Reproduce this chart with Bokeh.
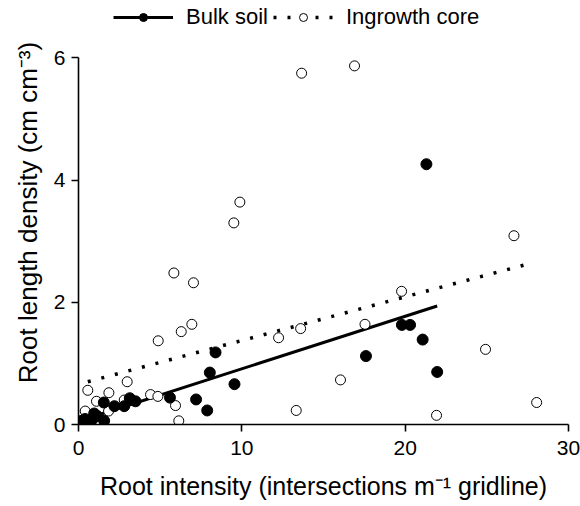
import math
from bokeh.plotting import figure
from bokeh.models import Legend, LegendItem, Title, FixedTicker
from bokeh.embed import file_html
from bokeh.resources import INLINE

# ---- data ----
bulk_x = [0.2, 0.4, 0.84, 0.96, 1.14, 1.55, 1.57, 2.2, 2.8, 3.14, 3.49, 5.6,
          7.2, 7.88, 8.04, 8.39, 9.55, 17.6, 19.8, 20.3, 21.07, 21.3, 21.96]
bulk_y = [0.06, 0.09, 0.08, 0.18, 0.14, 0.36, 0.06, 0.30, 0.30, 0.43, 0.38, 0.44,
          0.41, 0.23, 0.85, 1.18, 0.66, 1.12, 1.63, 1.63, 1.39, 4.26, 0.86]

ingrowth_x = [0.41, 0.57, 1.1, 1.84, 1.86, 2.8, 2.98, 4.41, 4.86, 4.88, 5.84, 5.94,
              6.14, 6.29, 6.94, 7.04, 9.51, 9.88, 12.25, 13.33, 13.6, 13.66, 16.04,
              16.9, 17.54, 19.78, 21.92, 24.92, 26.66, 28.05]
ingrowth_y = [0.22, 0.56, 0.38, 0.22, 0.52, 0.40, 0.70, 0.49, 0.46, 1.37, 2.48, 0.31,
              0.06, 1.52, 1.64, 2.32, 3.30, 3.64, 1.42, 0.23, 1.57, 5.75, 0.73,
              5.87, 1.64, 2.18, 0.15, 1.23, 3.09, 0.36]

bulk_fit_x = [0.2, 21.96]
bulk_fit_y = [0.07, 1.94]
ingrowth_fit_x = [0.57, 27.84]
ingrowth_fit_y = [0.70, 2.65]

x_ticks = [0, 10, 20, 30]
y_ticks = [0, 2, 4, 6]

series_labels = ["Bulk soil", "Ingrowth core"]
x_label = "Root intensity (intersections m\u207b\u00b9 gridline)"
y_label = "Root length density (cm cm\u207b\u00b3)"

FONT = "Liberation Sans"

# frame reaches the top of the page (room for the legend); axis drawn 0..6 only
p = figure(width=580, height=506, x_range=(0, 30), y_range=(0, 6.94),
           output_backend="svg", toolbar_location=None,
           min_border_left=78, min_border_right=12,
           min_border_top=0, min_border_bottom=82)
p.outline_line_color = None
p.xgrid.visible = False
p.ygrid.visible = False
p.background_fill_color = "white"

for ax, ticks in ((p.xaxis, x_ticks), (p.yaxis, y_ticks)):
    ax.ticker = FixedTicker(ticks=ticks)
    ax.axis_line_width = 1.6
    ax.axis_line_color = "black"
    ax.major_tick_line_width = 1.6
    ax.major_tick_line_color = "black"
    ax.major_tick_out = 7
    ax.major_tick_in = 0
    ax.minor_tick_line_color = None
    ax.major_label_text_font = FONT
    ax.major_label_text_font_size = "21px"
    ax.major_label_text_color = "black"
p.yaxis.bounds = (0, 6)

p.xaxis.major_label_standoff = 9
p.yaxis.major_label_standoff = 6
p.xaxis.axis_label = x_label
p.xaxis.axis_label_text_font = FONT
p.xaxis.axis_label_text_font_size = "25px"
p.xaxis.axis_label_text_font_style = "normal"
p.xaxis.axis_label_text_color = "black"
p.xaxis.axis_label_standoff = 14

ytitle = Title(text=y_label, align="center", offset=-9, standoff=16,
               text_font=FONT, text_font_size="26px", text_font_style="normal",
               text_color="black")
p.add_layout(ytitle, "left")

l1 = p.line(bulk_fit_x, bulk_fit_y, line_color="black", line_width=3)
l2 = p.line(ingrowth_fit_x, ingrowth_fit_y, line_color="black", line_width=3.5,
            line_dash="3 11")
s2 = p.scatter(ingrowth_x, ingrowth_y, marker="circle", size=10,
               fill_color="white", line_color="black", line_width=1)
s1 = p.scatter(bulk_x, bulk_y, marker="circle", size=11,
               fill_color="black", line_color="black")

legend = Legend(items=[LegendItem(label=series_labels[0], renderers=[l1, s1]),
                       LegendItem(label=series_labels[1], renderers=[l2, s2])],
                orientation="horizontal", location=(35, 394),
                glyph_width=60, glyph_height=20, label_standoff=13, spacing=5,
                padding=0, margin=0, border_line_color=None,
                background_fill_alpha=0,
                label_text_font=FONT, label_text_font_size="22px",
                label_text_color="black")
p.add_layout(legend)

open("out.html", "w").write(file_html(p, INLINE))
